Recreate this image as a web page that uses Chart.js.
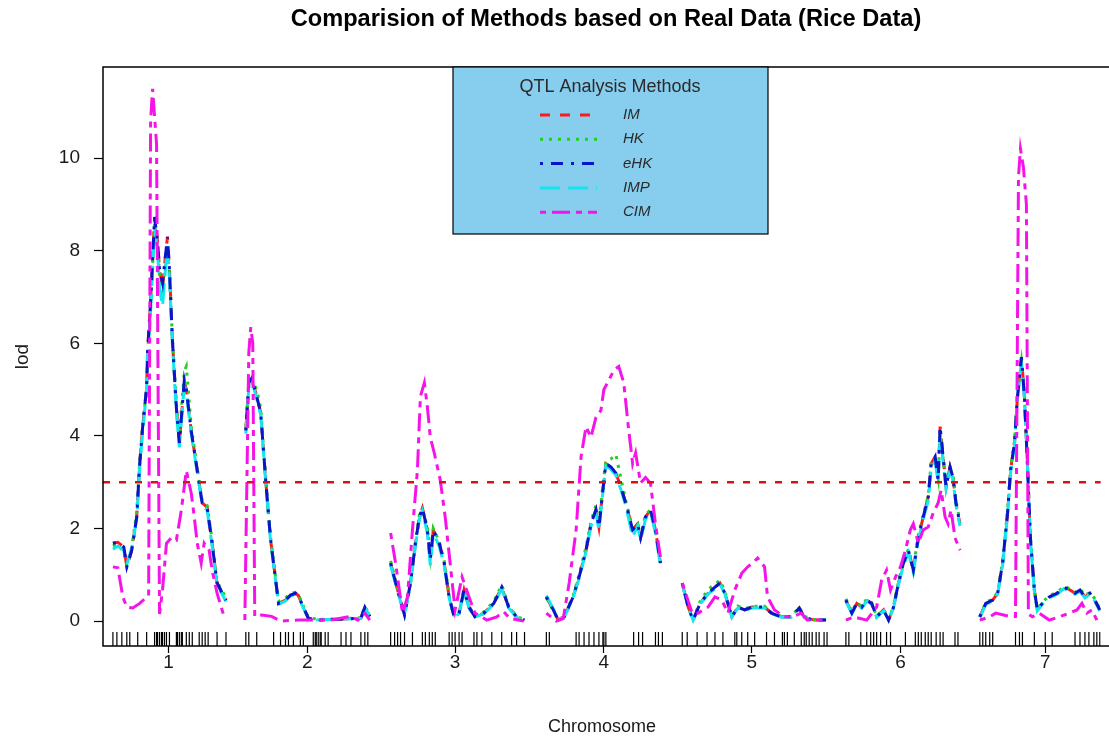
<!DOCTYPE html>
<html>
<head>
<meta charset="utf-8">
<title>Comparision of Methods based on Real Data (Rice Data)</title>
<script src="https://cdn.jsdelivr.net/npm/chart.js@4.4.0/dist/chart.umd.min.js"></script>
<style>
  html, body { margin: 0; padding: 0; background: #fff; }
  #wrap { width: 1109px; height: 738px; position: relative; }
</style>
</head>
<body>
<div id="wrap"><canvas id="lodChart"></canvas></div>
<script>
// chromosome labels and where their centre sits on the genome axis (cM)
const chromNames = ['1', '2', '3', '4', '5', '6', '7'];
const chromCenters = [66, 206, 355, 505, 654, 804, 950];
const lodTicks = [0, 2, 4, 6, 8, 10];
const threshold = 3;
const rugLevel = -0.39;

// positions of the scan points (null lod = break between chromosomes)
const mainPos = [
  10, 15, 21, 24, 29, 34, 37, 40, 44, 45, 48, 50, 52, 55, 57, 60, 63, 65, 67, 70, 74, 77, 82, 84, 89, 94, 100, 105, 110, 115, 124,
  134,
  144, 147, 150, 155, 159, 164, 169, 174, 177, 184, 189, 194, 197, 202, 207, 217, 227, 237, 250, 260, 264, 269,
  280,
  290, 297, 304, 310, 315, 319, 322, 327, 330, 333, 339, 344, 349, 354, 359, 364, 369, 375, 384, 394, 402, 409, 417, 425,
  436,
  447, 454, 459, 465, 474, 480, 487, 492, 497, 500, 504, 507, 512, 517, 522, 527, 534, 539, 542, 547, 552, 557, 562,
  573,
  584, 590, 595, 602, 610, 617, 622, 627, 634, 640, 647, 654, 667, 674, 684, 694, 702, 707, 717, 729,
  739,
  749, 755, 760, 765, 770, 775, 780, 787, 792, 797, 802, 807, 812, 817, 822, 827, 832, 835, 839, 842, 844, 847, 850, 854, 857, 860, 864,
  874,
  884, 890, 897, 902, 907, 912, 915, 919, 922, 926, 929, 932, 935, 939, 942, 947, 954, 962, 969, 975, 980, 985, 990, 995, 1000, 1005
];

const imLod = [
  1.68, 1.70, 1.60, 1.17, 1.53, 2.25, 3.4, 4.2, 5.05, 5.85, 6.9, 7.8, 8.73, 8.2, 7.6, 7.2, 7.9, 8.3, 7.6, 6.07, 4.6, 3.85, 5.2, 5.0, 4.1, 3.4, 2.55, 2.46, 1.68, 0.82, 0.45,
  null,
  4.12, 5.15, 5.25, 4.85, 4.5, 3.05, 1.75, 0.9, 0.38, 0.45, 0.56, 0.6, 0.55, 0.3, 0.06, 0.02, 0.03, 0.04, 0.05, 0.06, 0.3, 0.1,
  null,
  1.25, 0.67, 0.13, 0.82, 1.68, 2.25, 2.44, 1.97, 1.32, 1.97, 1.68, 1.25, 0.52, 0.09, 0.17, 0.67, 0.3, 0.09, 0.17, 0.38, 0.73, 0.3, 0.09, 0.02,
  null,
  0.52, 0.24, 0.02, 0.09, 0.52, 0.95, 1.53, 2.1, 2.4, 2.03, 2.83, 3.4, 3.33, 3.2, 2.9, 2.55, 1.97, 2.1, 1.8, 2.25, 2.4, 1.97, 1.25,
  null,
  0.82, 0.3, 0.02, 0.38, 0.6, 0.73, 0.82, 0.6, 0.09, 0.3, 0.24, 0.3, 0.3, 0.17, 0.09, 0.09, 0.28, 0.08, 0.02, 0.02,
  null,
  0.45, 0.17, 0.38, 0.3, 0.45, 0.38, 0.09, 0.24, 0.02, 0.3, 0.82, 1.25, 1.53, 1.1, 1.8, 2.25, 2.68, 3.4, 3.55, 3.05, 4.2, 3.55, 2.9, 3.33, 3.1, 2.55, 2.1,
  null,
  0.09, 0.38, 0.45, 0.6, 1.25, 2.33, 3.26, 3.85, 4.85, 5.7, 4.85, 3.4, 1.8, 0.67, 0.24, 0.38, 0.52, 0.6, 0.73, 0.67, 0.6, 0.67, 0.52, 0.6, 0.45, 0.24
];

const hkLod = [
  1.62, 1.66, 1.48, 1.20, 1.60, 2.35, 3.45, 4.25, 5.0, 5.8, 6.8, 7.7, 8.6, 8.1, 7.5, 7.0, 7.7, 8.1, 7.5, 6.1, 4.7, 4.0, 5.4, 5.5, 4.2, 3.45, 2.6, 2.5, 1.75, 0.85, 0.5,
  null,
  4.2, 5.1, 5.2, 5.0, 4.6, 3.1, 1.8, 0.95, 0.42, 0.5, 0.6, 0.62, 0.58, 0.32, 0.08, 0.03, 0.04, 0.05, 0.06, 0.07, 0.32, 0.12,
  null,
  1.3, 0.7, 0.15, 0.85, 1.72, 2.3, 2.4, 2.05, 1.4, 2.0, 1.72, 1.3, 0.55, 0.1, 0.2, 0.7, 0.32, 0.1, 0.2, 0.42, 0.78, 0.33, 0.1, 0.03,
  null,
  0.5, 0.22, 0.03, 0.1, 0.55, 1.0, 1.6, 2.15, 2.5, 2.1, 2.95, 3.45, 3.5, 3.6, 3.1, 2.6, 2.0, 2.1, 1.85, 2.3, 2.4, 1.95, 1.2,
  null,
  0.8, 0.32, 0.04, 0.42, 0.68, 0.8, 0.88, 0.65, 0.1, 0.32, 0.26, 0.32, 0.32, 0.18, 0.1, 0.1, 0.3, 0.1, 0.03, 0.03,
  null,
  0.48, 0.2, 0.4, 0.32, 0.48, 0.4, 0.1, 0.26, 0.03, 0.32, 0.85, 1.3, 1.55, 1.15, 1.85, 2.3, 2.7, 3.45, 3.5, 3.1, 4.1, 3.5, 2.95, 3.3, 3.15, 2.6, 2.15,
  null,
  0.1, 0.4, 0.48, 0.62, 1.3, 2.4, 3.3, 3.9, 4.9, 5.6, 4.9, 3.45, 1.85, 0.7, 0.26, 0.4, 0.55, 0.62, 0.75, 0.7, 0.62, 0.7, 0.55, 0.62, 0.48, 0.26
];

const ehkLod = [
  1.68, 1.70, 1.60, 1.17, 1.53, 2.25, 3.4, 4.2, 5.05, 5.85, 6.9, 7.8, 8.73, 8.2, 7.6, 7.3, 7.9, 8.3, 7.6, 6.07, 4.6, 3.85, 5.2, 5.0, 4.1, 3.4, 2.55, 2.46, 1.68, 0.82, 0.45,
  null,
  4.12, 5.15, 5.25, 4.85, 4.5, 3.05, 1.75, 0.9, 0.38, 0.45, 0.56, 0.6, 0.55, 0.3, 0.06, 0.02, 0.03, 0.04, 0.05, 0.06, 0.3, 0.1,
  null,
  1.25, 0.67, 0.13, 0.82, 1.68, 2.25, 2.44, 1.97, 1.32, 1.97, 1.68, 1.25, 0.52, 0.09, 0.17, 0.67, 0.3, 0.09, 0.17, 0.38, 0.73, 0.3, 0.09, 0.02,
  null,
  0.52, 0.24, 0.02, 0.09, 0.52, 0.95, 1.53, 2.1, 2.4, 2.03, 2.83, 3.4, 3.33, 3.2, 2.9, 2.55, 1.97, 2.1, 1.8, 2.25, 2.4, 1.97, 1.25,
  null,
  0.82, 0.3, 0.02, 0.38, 0.6, 0.73, 0.82, 0.6, 0.09, 0.3, 0.24, 0.3, 0.3, 0.17, 0.09, 0.09, 0.28, 0.08, 0.02, 0.02,
  null,
  0.45, 0.17, 0.38, 0.3, 0.45, 0.38, 0.09, 0.24, 0.02, 0.3, 0.82, 1.25, 1.53, 1.1, 1.8, 2.25, 2.68, 3.4, 3.55, 3.05, 4.2, 3.55, 2.9, 3.33, 3.1, 2.55, 2.1,
  null,
  0.09, 0.38, 0.45, 0.6, 1.25, 2.33, 3.26, 3.85, 4.85, 5.7, 4.85, 3.4, 1.8, 0.67, 0.24, 0.38, 0.52, 0.6, 0.73, 0.67, 0.6, 0.67, 0.52, 0.6, 0.45, 0.24
];

const impLod = [
  1.55, 1.62, 1.52, 1.22, 1.58, 2.2, 3.3, 4.1, 5.0, 5.75, 6.7, 7.6, 8.5, 8.0, 7.2, 6.8, 7.6, 8.1, 7.4, 6.0, 4.5, 3.75, 5.1, 4.95, 4.05, 3.35, 2.5, 2.4, 1.62, 0.78, 0.42,
  null,
  4.05, 5.05, 5.2, 4.8, 4.45, 3.0, 1.7, 0.88, 0.36, 0.43, 0.54, 0.58, 0.52, 0.28, 0.05, 0.02, 0.03, 0.04, 0.05, 0.06, 0.28, 0.1,
  null,
  1.2, 0.64, 0.12, 0.8, 1.62, 2.2, 2.38, 1.9, 1.2, 1.9, 1.62, 1.2, 0.5, 0.08, 0.16, 0.64, 0.28, 0.08, 0.16, 0.36, 0.7, 0.28, 0.08, 0.02,
  null,
  0.55, 0.26, 0.02, 0.08, 0.5, 0.92, 1.5, 2.05, 2.35, 1.95, 2.8, 3.35, 3.28, 3.15, 2.85, 2.5, 1.82, 2.05, 1.75, 2.2, 2.35, 1.9, 1.2,
  null,
  0.8, 0.28, 0.02, 0.36, 0.58, 0.7, 0.8, 0.58, 0.08, 0.28, 0.22, 0.28, 0.28, 0.16, 0.08, 0.08, 0.26, 0.07, 0.02, 0.02,
  null,
  0.43, 0.16, 0.36, 0.28, 0.43, 0.36, 0.08, 0.22, 0.02, 0.28, 0.78, 1.2, 1.48, 1.05, 1.75, 2.2, 2.6, 3.3, 3.45, 3.0, 4.05, 3.45, 2.85, 3.25, 3.05, 2.5, 2.05,
  null,
  0.08, 0.36, 0.43, 0.58, 1.2, 2.28, 3.2, 3.8, 4.8, 5.6, 4.8, 3.35, 1.75, 0.64, 0.22, 0.36, 0.5, 0.58, 0.7, 0.64, 0.58, 0.64, 0.5, 0.58, 0.43, 0.22
];

// CIM has its own scan positions
const cimPos = [
  10, 15, 20, 24, 30, 37, 44, 46, 48, 50, 54, 57, 60, 64, 69, 74, 79, 84, 89, 92, 95, 99, 102, 107, 110, 115, 122,
  134,
  143, 147, 149, 151, 153, 160, 170, 179, 197, 230, 250, 257, 264, 269,
  280,
  290, 295, 302, 307, 312, 317, 320, 324, 327, 330, 334, 340, 345, 350, 355, 362, 369, 375, 387, 397, 404, 410, 424,
  436,
  447, 457, 464, 470, 477, 482, 487, 492, 497, 502, 505, 510, 515, 520, 525, 530, 534, 537, 542, 547, 552, 557, 562,
  573,
  584, 594, 600, 610, 617, 624, 630, 637, 644, 650, 655, 660, 667, 670, 677, 687, 695, 704, 710, 727,
  739,
  749, 757, 770, 780, 785, 790, 794, 799, 804, 809, 814, 817, 822, 827, 832, 837, 842, 845, 849, 852, 855, 859, 864,
  874,
  884, 894, 900, 910, 917, 920, 923, 925, 928, 931, 933, 937, 944, 954, 964, 974, 982, 987, 992, 997, 1002
];

const cimLod = [
  1.17, 1.15, 0.52, 0.3, 0.28, 0.38, 0.52, 0.55, 10.8, 11.5, 10.3, 0.15, 0.67, 1.68, 1.8, 1.75, 2.4, 3.25, 2.76, 2.25, 1.68, 1.25, 1.68, 1.53, 1.1, 0.6, 0.1,
  null,
  0.02, 5.8, 6.35, 6.0, 0.1, 0.13, 0.1, 0.0, 0.02, 0.02, 0.1, 0.02, 0.17, 0.02,
  null,
  1.9, 1.25, 0.17, 0.52, 1.97, 3.26, 4.85, 5.15, 4.63, 3.97, 3.63, 3.05, 2.25, 1.25, 0.24, 0.95, 0.52, 0.17, 0.02, 0.09, 0.2, 0.06, 0.0,
  null,
  0.17, 0.0, 0.05, 0.82, 1.97, 3.55, 4.2, 3.97, 4.4, 4.55, 5.0, 5.2, 5.42, 5.5, 5.15, 4.13, 3.4, 3.63, 2.98, 3.1, 2.98, 2.1, 1.38,
  null,
  0.82, 0.17, 0.17, 0.3, 0.52, 0.45, 0.17, 0.67, 1.03, 1.17, 1.25, 1.36, 1.17, 0.52, 0.24, 0.09, 0.09, 0.17, 0.02, 0.02,
  null,
  0.02, 0.09, 0.02, 0.3, 0.88, 1.1, 0.67, 0.95, 1.17, 1.53, 1.97, 2.1, 1.68, 1.97, 2.03, 2.33, 2.55, 2.83, 2.25, 2.1, 2.4, 1.8, 1.53,
  null,
  0.02, 0.09, 0.17, 0.12, 0.09, 0.1, 9.6, 10.2, 9.8, 9.0, 0.15, 0.09, 0.17, 0.02, 0.09, 0.17, 0.24, 0.38, 0.17, 0.24, 0.02
];

// genetic marker positions (rug along the bottom)
const markerPos = [
  10, 14, 19, 24, 27, 35, 44, 52, 54, 55, 57, 59, 60, 62, 64, 67, 74, 75, 77, 79, 80, 84, 87, 90, 97, 100, 103, 106, 115, 124,
  144, 147, 155, 172, 179, 184, 187, 192, 199, 202, 212, 214, 215, 217, 219, 220, 224, 227, 240, 245, 250, 260, 264, 267,
  290, 294, 297, 300, 304, 312, 322, 325, 329, 332, 335, 349, 352, 355, 359, 362, 374, 377, 382, 392, 402, 412, 417, 425,
  447, 450, 477, 480, 485, 490, 495, 500, 504, 505, 507, 535, 540, 544, 557, 560, 564,
  584, 589, 599, 609, 617, 625, 637, 639, 644, 650, 657, 669, 677, 685, 687, 690, 697, 704, 707, 709, 712, 715, 719, 722, 727, 730,
  749, 752, 764, 770, 774, 777, 780, 784, 790, 794, 809, 819, 822, 825, 829, 832, 835, 840, 844, 847, 859, 862,
  884, 887, 890, 894, 897, 920, 924, 927, 939, 950, 957, 980, 985, 990, 994, 999, 1002, 1005
];

const zip = (xs, ys) => xs.map((x, i) => ({ x: x, y: ys[i] }));

const methods = [
  { label: 'IM',  pos: mainPos, lod: imLod,  color: '#ff1a1a', dash: [10, 10],       order: 5 },
  { label: 'HK',  pos: mainPos, lod: hkLod,  color: '#1fd11f', dash: [3, 6],         order: 4 },
  { label: 'eHK', pos: mainPos, lod: ehkLod, color: '#0a14c8', dash: [3, 8, 12, 8],  order: 2 },
  { label: 'IMP', pos: mainPos, lod: impLod, color: '#12e6ee', dash: [20, 8],        order: 3 },
  { label: 'CIM', pos: cimPos,  lod: cimLod, color: '#f514e8', dash: [6, 6, 18, 6],  order: 1 }
];

const datasets = methods.map(m => ({
  label: m.label,
  data: zip(m.pos, m.lod),
  borderColor: m.color,
  borderDash: m.dash,
  borderWidth: 3,
  pointRadius: 0,
  tension: 0,
  fill: false,
  order: m.order,
  isMethod: true
}));

datasets.push({
  label: 'threshold',
  data: [{ x: 0, y: threshold }, { x: 1006, y: threshold }],
  borderColor: '#dd1111',
  borderDash: [7, 9],
  borderWidth: 2.5,
  pointRadius: 0,
  order: 0
});

datasets.push({
  label: 'markers',
  data: markerPos.map(p => ({ x: p, y: rugLevel })),
  showLine: false,
  pointStyle: 'line',
  pointRotation: 90,
  pointRadius: 7,
  pointBorderColor: '#000',
  pointBorderWidth: 1.2,
  order: 0
});

const fontFamily = "'Liberation Sans', Arial, sans-serif";
Chart.defaults.font.family = fontFamily;

const titleText = 'Comparision of Methods based on Real Data (Rice Data)';

const frameAndLegend = {
  id: 'frameAndLegend',
  afterDraw(chart) {
    const { ctx, chartArea: a } = chart;
    ctx.save();

    // main title
    ctx.fillStyle = '#000';
    ctx.font = 'bold 23.6px ' + fontFamily;
    ctx.textAlign = 'center';
    ctx.textBaseline = 'middle';
    ctx.fillText(titleText, 606, 19);

    // plot frame
    ctx.strokeStyle = '#000';
    ctx.lineWidth = 1.5;
    ctx.strokeRect(a.left, a.top, a.right - a.left + 20, a.bottom - a.top);

    // legend box
    const bx = a.left + 350, by = a.top, bw = 315, bh = 167;
    ctx.fillStyle = '#87cdee';
    ctx.fillRect(bx, by, bw, bh);
    ctx.lineWidth = 1.2;
    ctx.strokeRect(bx, by, bw, bh);

    ctx.fillStyle = '#2a2a2a';
    ctx.font = '18px ' + fontFamily;
    ctx.fillText('QTL Analysis Methods', bx + 157, by + 20);

    const items = chart.data.datasets.filter(d => d.isMethod);
    items.forEach((d, i) => {
      const y = by + 48 + i * 24.3;
      ctx.beginPath();
      ctx.setLineDash(d.borderDash);
      ctx.strokeStyle = d.borderColor;
      ctx.lineWidth = 3;
      ctx.moveTo(bx + 87, y);
      ctx.lineTo(bx + 144, y);
      ctx.stroke();
      ctx.setLineDash([]);
      ctx.fillStyle = '#2a2a2a';
      ctx.font = 'italic 15px ' + fontFamily;
      ctx.textAlign = 'left';
      ctx.fillText(d.label, bx + 170, y);
    });
    ctx.restore();
  }
};

new Chart(document.getElementById('lodChart').getContext('2d'), {
  type: 'line',
  data: { datasets: datasets },
  plugins: [frameAndLegend],
  options: {
    responsive: true,
    maintainAspectRatio: false,
    animation: false,
    layout: { padding: { top: 67, left: 0, right: 0, bottom: 0 } },
    plugins: {
      legend: { display: false },
      tooltip: { enabled: false },
      title: { display: false }
    },
    scales: {
      x: {
        type: 'linear',
        min: 0,
        max: 1006,
        afterBuildTicks: s => { s.ticks = chromCenters.map(v => ({ value: v })); },
        afterFit: s => { s.height = 92; },
        grid: { drawOnChartArea: false, tickLength: 7, tickColor: '#000', tickWidth: 1.2 },
        border: { display: false },
        ticks: {
          autoSkip: false,
          maxRotation: 0,
          padding: -2,
          color: '#1a1a1a',
          font: { size: 19 },
          callback: (v, i) => chromNames[i]
        },
        title: {
          display: true,
          text: 'Chromosome',
          color: '#1a1a1a',
          padding: { top: 0, bottom: 0 },
          font: { size: 18 }
        }
      },
      y: {
        type: 'linear',
        min: -0.54,
        max: 11.97,
        afterBuildTicks: s => { s.ticks = lodTicks.map(v => ({ value: v })); },
        afterFit: s => { s.width = 103; },
        grid: { drawOnChartArea: false, tickLength: 9, tickColor: '#000', tickWidth: 1.2 },
        border: { display: false },
        ticks: { padding: 14, color: '#1a1a1a', font: { size: 19 } },
        title: {
          display: true,
          text: 'lod',
          color: '#1a1a1a',
          padding: { top: 11, bottom: 0 },
          font: { size: 19 }
        }
      }
    }
  }
});
</script>
</body>
</html>
